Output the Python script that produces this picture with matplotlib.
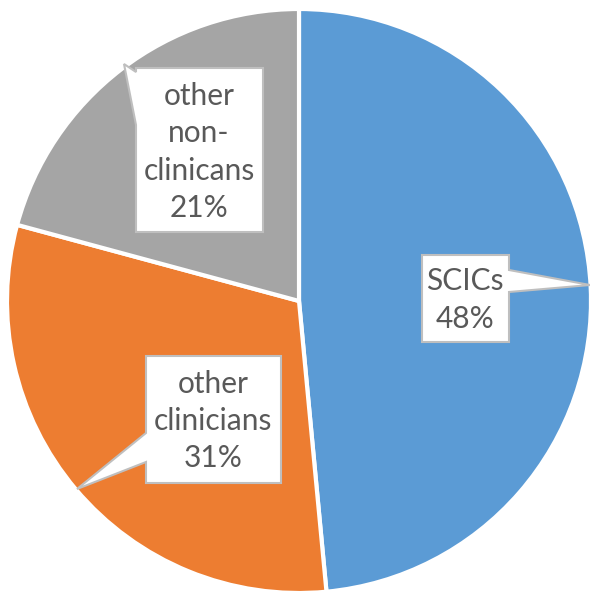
import matplotlib
matplotlib.use("Agg")
import matplotlib.pyplot as plt
from matplotlib.patches import Polygon

categories = ["SCICs", "other clinicians", "other non-clinicans"]
values = [48.5, 30.7, 20.8]
pct_labels = ["48%", "31%", "21%"]
label_texts = ["SCICs\n48%", "other\nclinicians\n31%", "other\nnon-\nclinicans\n21%"]
colors = ["#5B9BD5", "#ED7D31", "#A5A5A5"]

W, H = 590, 592
fig = plt.figure(figsize=(W / 100, H / 100), dpi=100)
ax = fig.add_axes([0, 0, 1, 1])

def P(x, y):
    return (x, H - y)

ax.pie(values, colors=colors, startangle=90, counterclock=False,
       center=P(299, 301), radius=292,
       wedgeprops=dict(edgecolor="white", linewidth=3))
ax.set_xlim(0, W)
ax.set_ylim(0, H)
ax.set_aspect("auto")
ax.axis("off")

# callout shapes in pixel coordinates (box with pointer)
callouts = [
    [(422, 255), (509, 255), (509, 270), (590, 285), (509, 292), (509, 342), (422, 342)],
    [(146, 356), (281, 356), (281, 483), (146, 483), (146, 462), (77, 489), (146, 433)],
    [(136, 68), (263, 68), (263, 232), (136, 232), (136, 125), (124, 64), (136, 72)],
]
text_pos = [(465, 300), (213, 421), (199, 152)]

for pts, tp, txt in zip(callouts, text_pos, label_texts):
    poly = Polygon([P(x, y) for x, y in pts], closed=True, facecolor="white",
                   edgecolor="#BFBFBF", linewidth=1.5, zorder=5, joinstyle="miter")
    ax.add_patch(poly)
    ax.text(*P(*tp), txt, ha="center", va="center", fontsize=21.5,
            color="#595959", family="Lato", linespacing=1.4, zorder=6)

fig.savefig("out.png", dpi=100)
